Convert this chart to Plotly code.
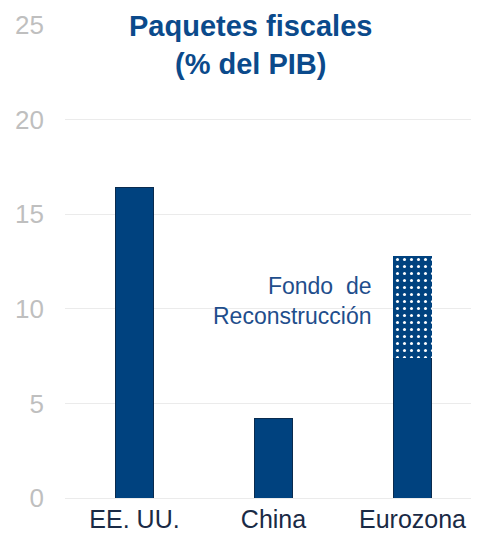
import plotly.graph_objects as go

categories = ["EE. UU.", "China", "Eurozona"]
paquete = [16.4, 4.2, 7.4]
fondo = [0, 0, 5.4]
y_ticks = [0, 5, 10, 15, 20, 25]

navy = "#00427F"

W, H = 471, 534
L, R, T, B = 57, 0, 17, 44
PW = W - L - R
PH = H - T - B

fig = go.Figure()
fig.add_trace(go.Bar(
    x=categories, y=paquete,
    marker=dict(color=navy, line=dict(color="#0A2B4E", width=1)),
    showlegend=False,
))
fig.add_trace(go.Bar(
    x=categories, y=fondo,
    marker=dict(color=navy, line=dict(width=0),
                pattern=dict(shape=".", fgcolor="white", bgcolor=navy,
                             size=7, solidity=0.15, fillmode="replace")),
    showlegend=False,
))

fig.update_layout(
    width=W, height=H,
    barmode="stack",
    bargap=0.72,
    plot_bgcolor="white", paper_bgcolor="white",
    margin=dict(l=L, r=R, t=T, b=B, autoexpand=False),
    font=dict(family="Liberation Sans, Arial, sans-serif"),
    xaxis=dict(showgrid=False, showline=False, ticks="", automargin=False,
               range=[-0.5, -0.5 + PW / 139],
               tickfont=dict(size=25, color="#1A2A45"), ticklabelstandoff=4),
    yaxis=dict(range=[0, 25], tickvals=y_ticks, showgrid=True, automargin=False,
               gridcolor="#EBEBEB", gridwidth=1, zeroline=True,
               zerolinecolor="#EBEBEB", zerolinewidth=1,
               tickfont=dict(size=26, color="#BFBFBF"), ticks="",
               ticklabelstandoff=20),
    annotations=[
        dict(text="<b>Paquetes fiscales<br>(% del PIB)</b>", xref="paper", yref="paper",
             x=(242 - L) / PW, y=1 + T / PH, yanchor="top", xanchor="center",
             showarrow=False, font=dict(size=29, color="#0B4A8B")),
        dict(text="Fondo  de<br>Reconstrucción", xref="paper", yref="y",
             x=(366 - L) / PW, y=10.43, xanchor="right", yanchor="middle",
             align="right", showarrow=False,
             font=dict(size=23, color="#1F4E8C")),
    ],
)

fig.write_html("out.html")
